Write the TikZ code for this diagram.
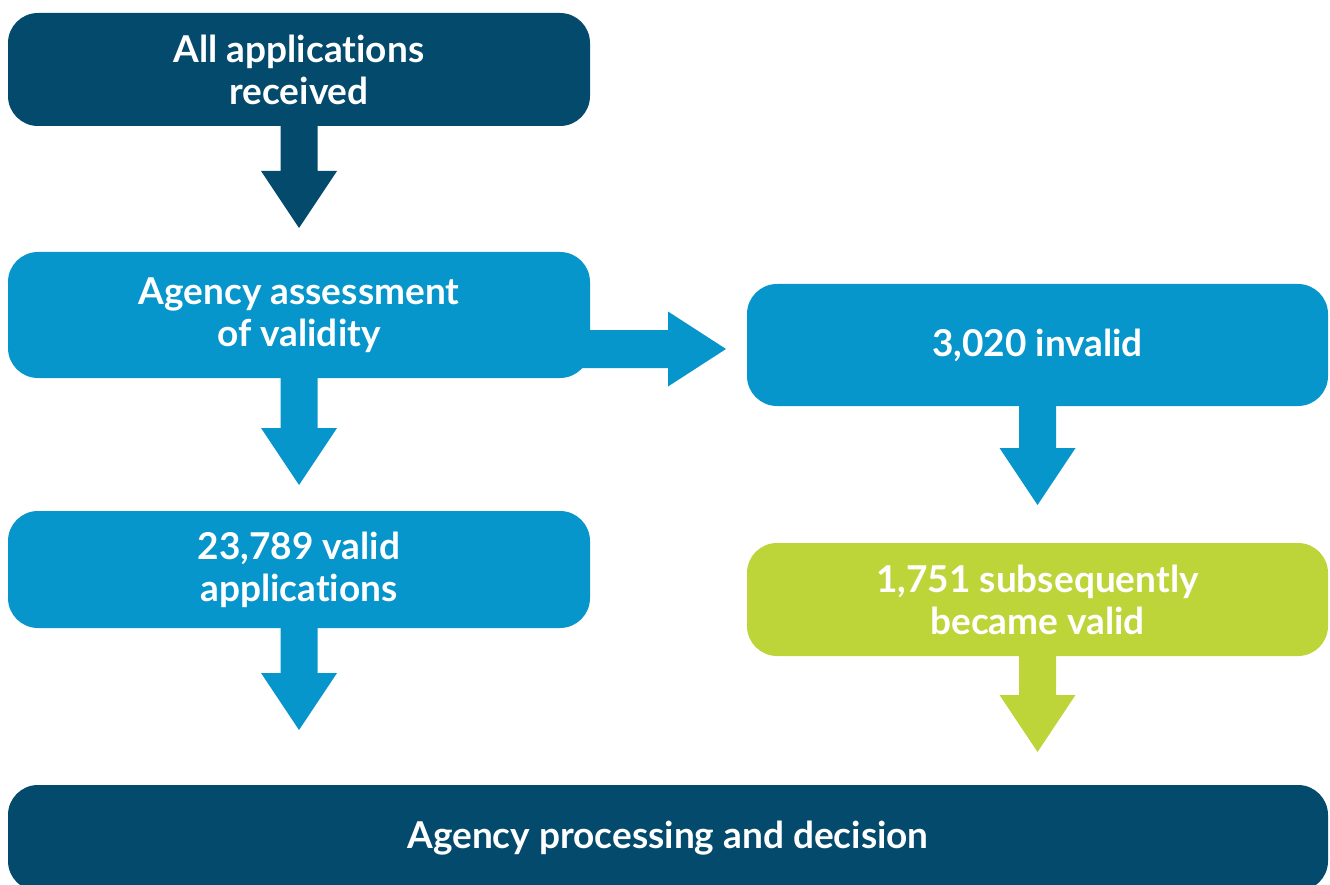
\documentclass[tikz,border=0pt]{standalone}
\usepackage{fontspec}
\setmainfont{Lato}[Ligatures=NoCommon]
\usetikzlibrary{calc}
\definecolor{navy}{RGB}{3,74,108}
\definecolor{sky}{RGB}{6,150,203}
\definecolor{lime}{RGB}{189,213,57}
\newcommand\flowdown[3]{%
  \fill[#3] ($(#1)+(-18.5,0)$) -- ($(#2)+(-18.5,-57)$) -- ($(#2)+(-38,-57)$) -- (#2)
    -- ($(#2)+(38,-57)$) -- ($(#2)+(18.5,-57)$) -- ($(#1)+(18.5,0)$) -- cycle;}
\begin{document}
\begin{tikzpicture}[x=1pt,y=-1pt,
  box/.style={rounded corners=30pt, text=white, font=\bfseries\fontsize{37}{42}\selectfont,
    align=center, inner sep=0pt}]
\useasboundingbox (0,0) rectangle (1330,885);
\clip (0,0) rectangle (1330,885);
\node[box, fill=navy, minimum width=582pt, minimum height=113pt] (b1) at (299,69.5) {All applications\\received};
\node[box, fill=sky, minimum width=582pt, minimum height=126pt] (b2) at (299,315) {Agency assessment\\of validity};
\node[box, fill=sky, minimum width=582pt, minimum height=117pt] (b5) at (299,569.5) {23,789 valid\\applications};
\node[box, fill=sky, minimum width=581pt, minimum height=122pt] (b3) at (1037.5,345) {3,020 invalid};
\node[box, fill=lime, minimum width=581pt, minimum height=113pt] (b4) at (1037.5,599.5) {1,751 subsequently\\became valid};
\node[box, fill=navy, minimum width=1320pt, minimum height=106pt] (b6) at (668,838) {\raisebox{5pt}{Agency processing and decision}};
\coordinate (t1) at (299,228);
\coordinate (t2) at (299,485);
\coordinate (t3) at (299,730);
\coordinate (t4) at (1037.5,505);
\coordinate (t5) at (1037.5,752);
\coordinate (s6) at ($(b2.east)+(-10,34)$);
\coordinate (t6) at (726,349);
\flowdown{b1.south}{t1}{navy}
\flowdown{b2.south}{t2}{sky}
\flowdown{b5.south}{t3}{sky}
\flowdown{b3.south}{t4}{sky}
\flowdown{b4.south}{t5}{lime}
\fill[sky] ($(s6)+(0,-19)$) -- ($(t6)+(-58,-19)$) -- ($(t6)+(-58,-37.5)$) -- (t6)
  -- ($(t6)+(-58,37.5)$) -- ($(t6)+(-58,19)$) -- ($(s6)+(0,19)$) -- cycle;
\end{tikzpicture}
\end{document}
